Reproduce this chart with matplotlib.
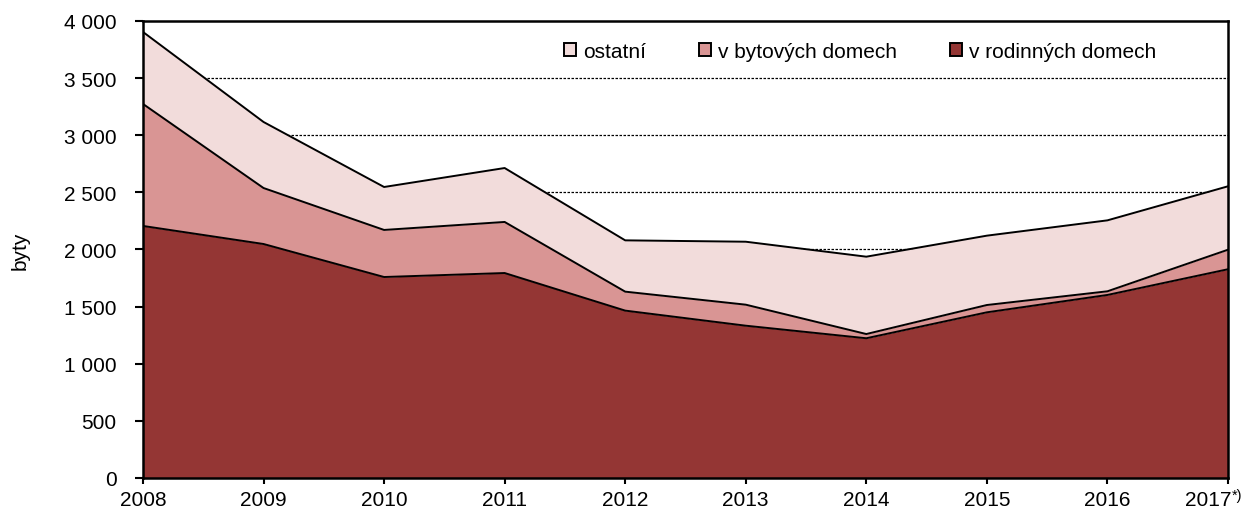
import matplotlib.pyplot as plt
from matplotlib.patches import Patch
from matplotlib.ticker import FuncFormatter

plt.rcParams['font.family'] = ['Liberation Sans', 'DejaVu Sans']

years = [2008, 2009, 2010, 2011, 2012, 2013, 2014, 2015, 2016, 2017]
year_labels = ["2008", "2009", "2010", "2011", "2012", "2013", "2014", "2015", "2016", ""]
rodinne = [2206, 2048, 1759, 1794, 1465, 1333, 1223, 1450, 1602, 1827]
bytove = [1068, 490, 412, 447, 166, 184, 37, 64, 32, 171]
ostatni = [630, 578, 376, 472, 449, 551, 677, 607, 621, 555]

c_rod = "#943634"
c_byt = "#D99594"
c_ost = "#F2DCDB"

fig = plt.figure(figsize=(12.52, 5.10), dpi=100)
ax = fig.add_axes([0.1142, 0.0608, 0.8666, 0.8961])

lvl1 = rodinne
lvl2 = [a + b for a, b in zip(rodinne, bytove)]
lvl3 = [a + b for a, b in zip(lvl2, ostatni)]

for y in [500, 1000, 1500, 2000, 2500, 3000, 3500]:
    ax.axhline(y, color="black", lw=0.9, ls=(0, (2, 1.2)), zorder=0)

ax.fill_between(years, 0, lvl1, color=c_rod, lw=0, zorder=1)
ax.fill_between(years, lvl1, lvl2, color=c_byt, lw=0, zorder=1)
ax.fill_between(years, lvl2, lvl3, color=c_ost, lw=0, zorder=1)
for lv in (lvl1, lvl2, lvl3):
    ax.plot(years, lv, color="black", lw=1.4, zorder=2)

ax.set_xlim(years[0], years[-1])
ax.set_ylim(0, 4000)
ax.set_yticks(range(0, 4001, 500))
ax.yaxis.set_major_formatter(FuncFormatter(lambda v, p: f"{int(v):,}".replace(",", " ")))
ax.set_xticks(years)
ax.set_xticklabels(year_labels)
ax.tick_params(axis="both", labelsize=15, direction="out", width=1.5)
ax.tick_params(axis="y", length=6, pad=13)
ax.tick_params(axis="x", length=4.5, pad=4.5)
for s in ax.spines.values():
    s.set_linewidth(1.8)
    s.set_zorder(3)
ax.set_ylabel("byty", fontsize=15, labelpad=25)

# last year label shifted left with superscript note
ax.annotate("2017", xy=(years[-1], 0), xycoords=("data", "axes fraction"),
            xytext=(-14, -9), textcoords="offset points",
            ha="center", va="top", fontsize=15)
ax.annotate("*)", xy=(years[-1], 0), xycoords=("data", "axes fraction"),
            xytext=(3, -7.5), textcoords="offset points",
            ha="left", va="top", fontsize=10.5)

handles = [Patch(facecolor=c_ost, edgecolor="black", lw=1.4),
           Patch(facecolor=c_byt, edgecolor="black", lw=1.4),
           Patch(facecolor=c_rod, edgecolor="black", lw=1.4)]
ax.legend(handles, ["ostatní", "v bytových domech", "v rodinných domech"],
          ncol=3, loc="center", bbox_to_anchor=(0.661, 0.933), frameon=False,
          fontsize=15, handlelength=0.6, handleheight=0.6, handletextpad=0.35,
          columnspacing=2.5)

fig.savefig("out.png", dpi=100)
